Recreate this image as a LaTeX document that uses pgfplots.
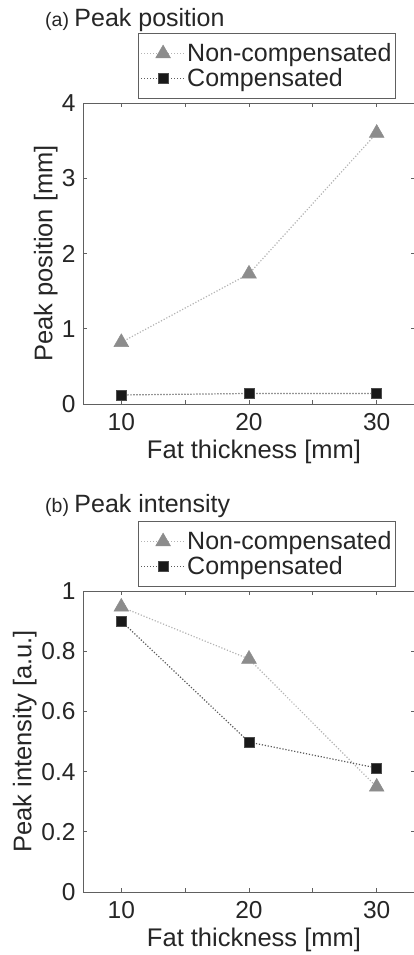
\documentclass[border=0pt]{standalone}
\usepackage{pgfplots}
\pgfplotsset{compat=1.18}
\usepackage{fontspec}
\setmainfont{Liberation Sans}
\definecolor{axgray}{HTML}{606060}
\definecolor{txtgray}{HTML}{262626}
\definecolor{trigray}{HTML}{8C8C8C}
\definecolor{triline}{HTML}{B4B4B4}
\definecolor{sqline}{HTML}{5A5A5A}
\pgfplotsset{
  myaxis/.style={
    scale only axis, width=332pt, height=301pt,
    xmin=7, xmax=33,
    xtick={10,15,20,25,30}, xticklabels={10,,20,,30},
    tick align=inside, major tick length=4pt,
    axis line style={draw=axgray, line width=0.8pt},
    every tick/.style={axgray, line width=0.8pt},
    ticklabel style={font=\fontsize{24.5}{24.5}\selectfont, text=txtgray},
    /pgf/number format/assume math mode=true,
    xlabel={Fat thickness [mm]},
    xlabel style={font=\fontsize{25.5}{25.5}\selectfont, text=txtgray, at={(axis description cs:0.515,-0.16)}, anchor=center},
    xticklabel style={yshift=-6pt},
    yticklabel style={xshift=-4pt},
    legend style={at={(rel axis cs:0.166,1.233)}, anchor=north west,
      draw=axgray, line width=0.8pt, font=\fontsize{25}{25}\selectfont, text=txtgray,
      nodes={inner sep=1.5pt}, row sep=2pt, inner xsep=2pt, inner ysep=9pt},
    legend cell align=left,
    legend image code/.code={\draw[mark repeat=2,mark phase=2] plot coordinates {(0pt,0pt)(22pt,0pt)(44pt,0pt)};},
    clip=false,
  },
  nonc/.style={color=triline, line width=1.2pt, dash pattern=on 1.2pt off 1.8pt,
    mark=triangle*, mark size=8.5pt, mark options={solid, fill=trigray, draw=trigray, line width=0.5pt}},
  comp/.style={color=sqline, line width=1.2pt, dash pattern=on 1.2pt off 1.8pt,
    mark=square*, mark size=5pt, mark options={solid, fill=black!90, draw=black!70, line width=0.6pt}},
}
\begin{document}
\begin{tikzpicture}
\path[use as bounding box] (0,0) rectangle (414pt,-955pt);
\node[anchor=base west, text=txtgray, inner sep=0pt] at (45pt,-27pt) {\fontsize{19.5}{19.5}\selectfont (a) \fontsize{25}{25}\selectfont Peak position};
\node[anchor=base west, text=txtgray, inner sep=0pt] at (45pt,-512pt) {\fontsize{19.5}{19.5}\selectfont (b) \fontsize{25}{25}\selectfont Peak intensity};
\begin{axis}[myaxis, at={(83pt,-404pt)}, anchor=south west,
  ymin=0, ymax=4, ytick={0,1,2,3,4},
  ylabel={Peak position [mm]},
  ylabel style={font=\fontsize{25.5}{25.5}\selectfont, text=txtgray, at={(axis description cs:-0.112,0.5)}, anchor=center},
]
\addplot[nonc] coordinates {(10,0.82) (20,1.73) (30,3.6)};
\addlegendentry{Non-compensated\hspace{24pt}}
\addplot[comp] coordinates {(10,0.12) (20,0.14) (30,0.14)};
\addlegendentry{Compensated}
\end{axis}
\begin{axis}[myaxis, at={(83pt,-892pt)}, anchor=south west,
  ymin=0, ymax=1, ytick={0,0.2,0.4,0.6,0.8,1},
  yticklabels={0,0.2,0.4,0.6,0.8,1},
  ylabel={Peak intensity [a.u.]},
  ylabel style={font=\fontsize{25.5}{25.5}\selectfont, text=txtgray, at={(axis description cs:-0.175,0.5)}, anchor=center},
]
\addplot[nonc] coordinates {(10,0.947) (20,0.774) (30,0.349)};
\addlegendentry{Non-compensated\hspace{24pt}}
\addplot[comp] coordinates {(10,0.90) (20,0.498) (30,0.412)};
\addlegendentry{Compensated}
\end{axis}
\end{tikzpicture}
\end{document}
